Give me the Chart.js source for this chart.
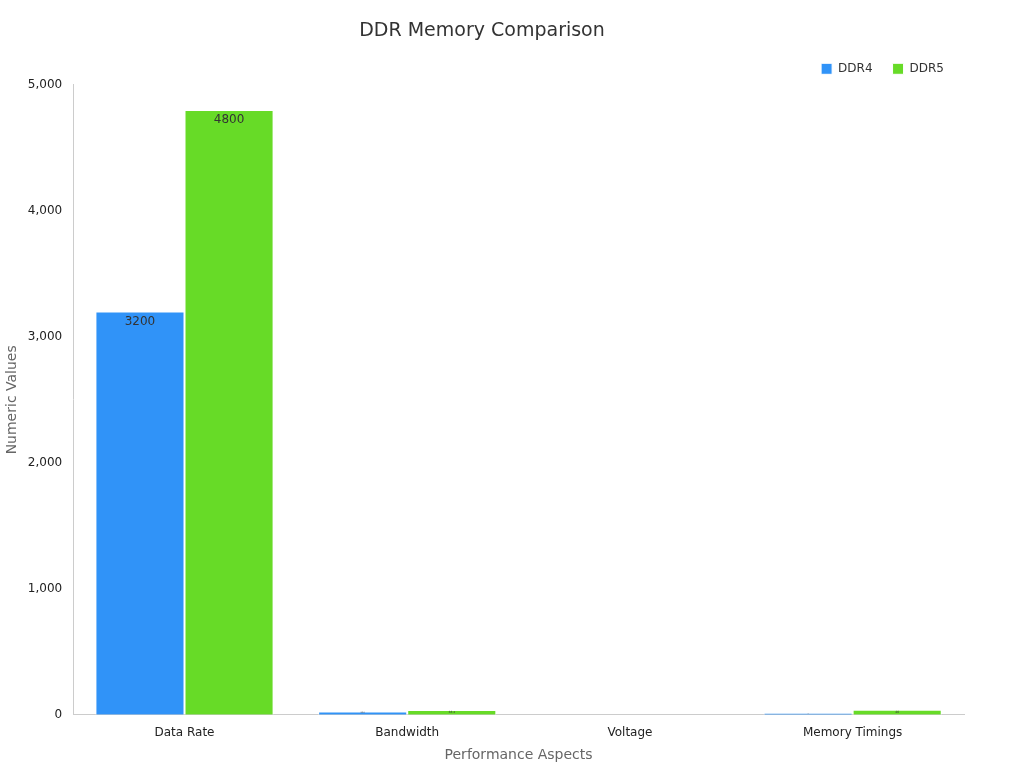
<!DOCTYPE html>
<html><head><meta charset="utf-8">
<script src="https://cdn.jsdelivr.net/npm/chart.js@4"></script>
<style>body{margin:0;background:#fff}#w{width:1024px;height:768px}</style>
</head><body><div id="w"><canvas id="c"></canvas></div>
<script>
const categories=["Data Rate","Bandwidth","Voltage","Memory Timings"];
const ddr4=[3200,25.6,1.2,16];
const ddr5=[4800,38.4,1.1,40];
const yTicks=[0,1000,2000,3000,4000,5000];
const font="'DejaVu Sans', sans-serif";
Chart.defaults.font.family=font;
const labelPlugin={id:'lbl',afterDatasetsDraw(ch){
 const ctx=ch.ctx;
 ch.data.datasets.forEach((ds,i)=>{
  ch.getDatasetMeta(i).data.forEach((b,j)=>{
   const h=b.base-b.y; const fs=Math.min(12,h*0.6); if(fs<1)return;
   ctx.save();ctx.fillStyle='#333';ctx.font=fs+"px "+font;ctx.textAlign='center';ctx.textBaseline='top';
   ctx.fillText(String(ds.data[j]),b.x,b.y+Math.min(4,h*0.1));ctx.restore();
  });
 });
}};
new Chart(document.getElementById('c'),{type:'bar',
 data:{labels:categories,datasets:[
  {label:'DDR4',data:ddr4,backgroundColor:'#3093F8',borderColor:'#ffffff',borderWidth:1},
  {label:'DDR5',data:ddr5,backgroundColor:'#67DB27',borderColor:'#ffffff',borderWidth:1}]},
 options:{responsive:true,maintainAspectRatio:false,animation:false,
  layout:{padding:{left:0,right:60,top:0,bottom:0}},
  plugins:{title:{display:true,text:'DDR Memory Comparison',color:'#333',font:{size:19,weight:'normal'},padding:{top:20,bottom:0}},
   legend:{position:'top',align:'end',labels:{boxWidth:11,boxHeight:11,color:'#333',font:{size:12},padding:20}}},
  datasets:{bar:{categoryPercentage:0.8,barPercentage:1}},
  scales:{
   x:{grid:{display:false,drawTicks:true},border:{color:'#ccc'},ticks:{color:'#222',font:{size:12}},
      title:{display:true,text:'Performance Aspects',color:'#666',font:{size:14}}},
   y:{min:0,max:5000,afterBuildTicks:a=>{a.ticks=yTicks.map(v=>({value:v}))},
      grid:{display:false,drawTicks:true},border:{color:'#ccc'},ticks:{color:'#222',font:{size:12}},
      title:{display:true,text:'Numeric Values',color:'#666',font:{size:14}}}}},
 plugins:[labelPlugin]});
</script></body></html>
